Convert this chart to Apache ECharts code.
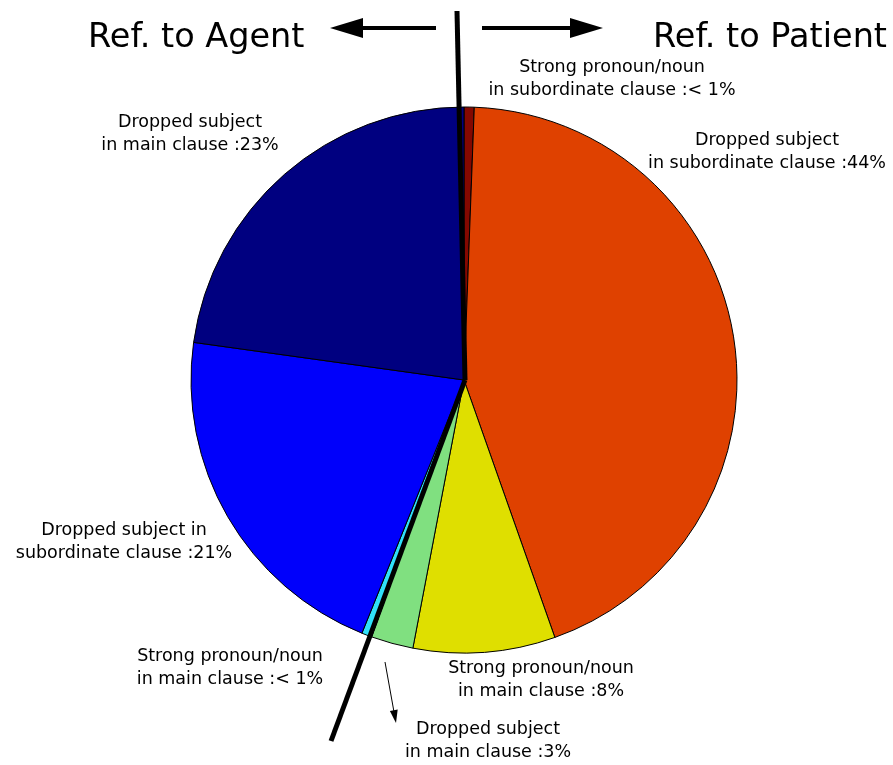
<!DOCTYPE html>
<html>
<head>
<meta charset="utf-8">
<script src="https://cdn.jsdelivr.net/npm/echarts@6/dist/echarts.min.js"></script>
<style>html,body{margin:0;padding:0;background:#fff;}#c{width:893px;height:765px;}</style>
</head>
<body>
<div id="c"></div>
<script>
// Slices in clockwise order starting from 12 o'clock
const categories = [
  'Strong pronoun/noun in subordinate clause',
  'Dropped subject in subordinate clause',
  'Strong pronoun/noun in main clause (Patient)',
  'Dropped subject in main clause (Patient)',
  'Strong pronoun/noun in main clause (Agent)',
  'Dropped subject in subordinate clause (Agent)',
  'Dropped subject in main clause (Agent)'
];
const values = [0.6, 44.0, 8.4, 2.5, 0.6, 21.1, 22.8];
const labelTexts = [
  'Strong pronoun/noun\nin subordinate clause :< 1%',
  'Dropped subject\nin subordinate clause :44%',
  'Strong pronoun/noun\nin main clause :8%',
  'Dropped subject\nin main clause :3%',
  'Strong pronoun/noun\nin main clause :< 1%',
  'Dropped subject in\nsubordinate clause :21%',
  'Dropped subject\nin main clause :23%'
];
const colors = ['#840800', '#df4100', '#dfdf00', '#80e080', '#30e0fa', '#0000fb', '#000080'];
const labelPos = [[612, 79], [767, 152], [541, 680], [488, 741], [230, 668], [124, 542], [190, 134]];

const chart = echarts.init(document.getElementById('c'), null, {renderer: 'canvas'});
const FONT = '"DejaVu Sans", sans-serif';
chart.setOption({
  animation: false,
  backgroundColor: '#ffffff',
  series: [{
    type: 'pie',
    center: [464, 380],
    radius: 273,
    startAngle: 90,
    clockwise: true,
    avoidLabelOverlap: false,
    data: categories.map((c, i) => ({
      name: c,
      value: values[i],
      itemStyle: {color: colors[i]},
      label: {formatter: labelTexts[i]}
    })),
    itemStyle: {borderColor: '#000', borderWidth: 1},
    label: {
      show: true,
      position: 'outside',
      color: '#000',
      fontFamily: FONT,
      fontSize: 17.5,
      lineHeight: 23,
      align: 'center'
    },
    labelLine: {show: false},
    labelLayout: function (p) {
      const pos = labelPos[p.dataIndex];
      return {x: pos[0], y: pos[1], align: 'center', verticalAlign: 'middle'};
    },
    emphasis: {disabled: true}
  }],
  graphic: [
    {type: 'line', shape: {x1: 457, y1: 11, x2: 465, y2: 380}, style: {stroke: '#000', lineWidth: 5}, z: 100},
    {type: 'line', shape: {x1: 465, y1: 380, x2: 331, y2: 741}, style: {stroke: '#000', lineWidth: 5}, z: 100},
    {type: 'line', shape: {x1: 436, y1: 28, x2: 358, y2: 28}, style: {stroke: '#000', lineWidth: 4}, z: 100},
    {type: 'polygon', shape: {points: [[330, 28], [363, 18], [363, 38]]}, style: {fill: '#000'}, z: 100},
    {type: 'line', shape: {x1: 482, y1: 28, x2: 575, y2: 28}, style: {stroke: '#000', lineWidth: 4}, z: 100},
    {type: 'polygon', shape: {points: [[603, 28], [570, 18], [570, 38]]}, style: {fill: '#000'}, z: 100},
    {type: 'line', shape: {x1: 385, y1: 662, x2: 394, y2: 712}, style: {stroke: '#000', lineWidth: 1}, z: 100},
    {type: 'polygon', shape: {points: [[396, 723], [397.7, 709.5], [389.9, 710.9]]}, style: {fill: '#000'}, z: 100},
    {type: 'text', style: {text: 'Ref. to Agent', x: 88, y: 38, font: '33.5px ' + FONT, fill: '#000', textAlign: 'left', textVerticalAlign: 'middle'}, z: 100},
    {type: 'text', style: {text: 'Ref. to Patient', x: 887, y: 38, font: '33.5px ' + FONT, fill: '#000', textAlign: 'right', textVerticalAlign: 'middle'}, z: 100}
  ]
});
</script>
</body>
</html>
